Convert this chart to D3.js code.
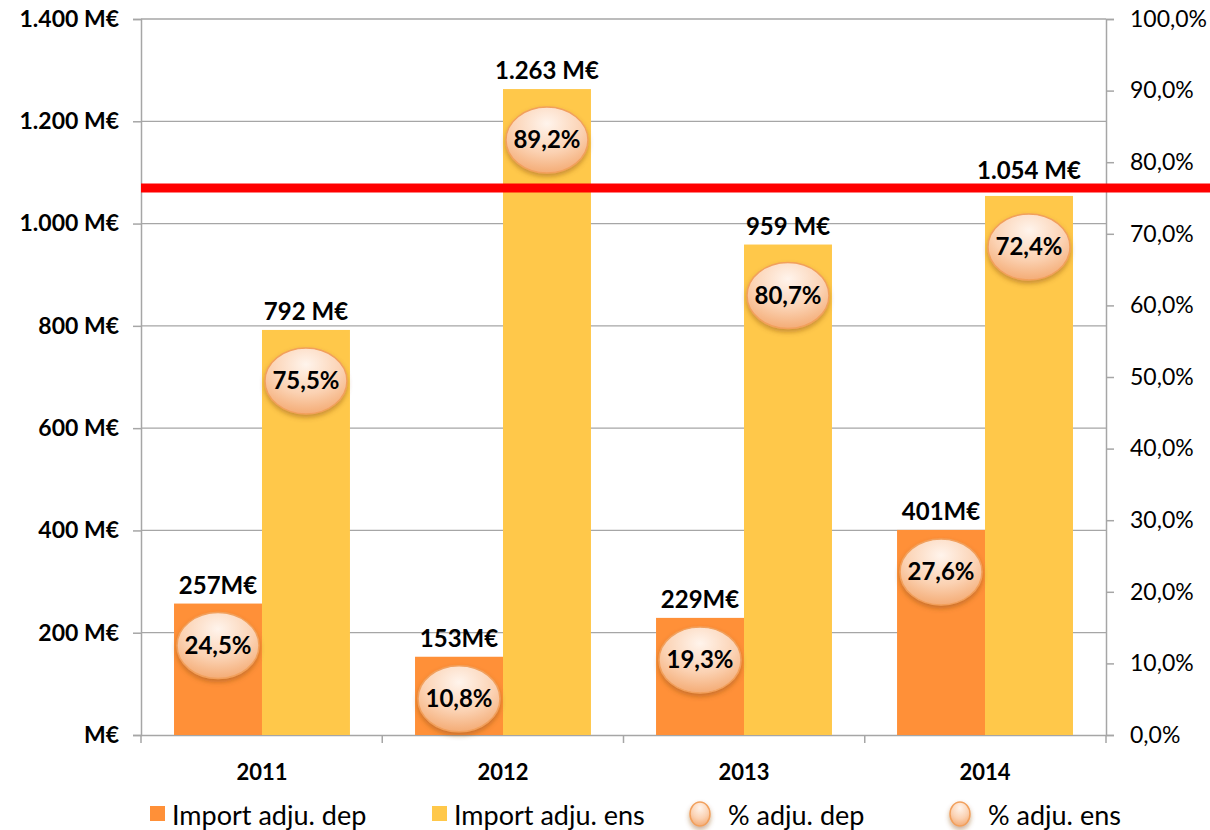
<!DOCTYPE html>
<html>
<head>
<meta charset="utf-8">
<script src="https://cdn.jsdelivr.net/npm/d3@7"></script>
<style>
  body { margin: 0; background: #fff; }
  text { font-family: Lato, "Open Sans", sans-serif; fill: #000; }
</style>
</head>
<body>
<script>
// data
var years = ["2011", "2012", "2013", "2014"];
var importDep = [257, 153, 229, 401];
var importEns = [792, 1263, 959, 1054];
var pctDep = [24.5, 10.8, 19.3, 27.6];
var pctEns = [75.5, 89.2, 80.7, 72.4];
var depLabels = ["257M€", "153M€", "229M€", "401M€"];
var ensLabels = ["792 M€", "1.263 M€", "959 M€", "1.054 M€"];
var leftTicks = [0, 200, 400, 600, 800, 1000, 1200, 1400];
var rightTicks = [0, 10, 20, 30, 40, 50, 60, 70, 80, 90, 100];
var threshold = 76.4;
var legendItems = ["Import adju. dep", "Import adju. ens", "% adju. dep", "% adju. ens"];

var W = 1210, H = 830;
var mLeft = 141, mRight = 1106, mTop = 19, mBottom = 735;

var svg = d3.select("body").append("svg")
  .attr("width", W)
  .attr("height", H);

var defs = svg.append("defs");
var grad = defs.append("radialGradient")
  .attr("id", "bub")
  .attr("cx", "50%").attr("cy", "25%").attr("r", "80%");
grad.append("stop").attr("offset", "0%").attr("stop-color", "#fff4ec");
grad.append("stop").attr("offset", "55%").attr("stop-color", "#fbd2b3");
grad.append("stop").attr("offset", "100%").attr("stop-color", "#f3a66c");
var shadow = defs.append("filter").attr("id", "shd")
  .attr("x", "-30%").attr("y", "-30%").attr("width", "160%").attr("height", "170%");
shadow.append("feDropShadow")
  .attr("dx", 0).attr("dy", 3).attr("stdDeviation", 2.5)
  .attr("flood-color", "#8a4a1a").attr("flood-opacity", 0.45);

var x = d3.scaleBand().domain(years).range([mLeft, mRight]).paddingInner(0.27).paddingOuter(0.137);
var xSub = d3.scaleBand().domain(["dep", "ens"]).range([0, x.bandwidth()]);
var y = d3.scaleLinear().domain([0, 1400]).range([mBottom, mTop]);
var yp = d3.scaleLinear().domain([0, 100]).range([mBottom, mTop]);
var lineY = yp(threshold);

// gridlines
svg.append("g").selectAll("line")
  .data(leftTicks.slice(1))
  .enter().append("line")
  .attr("x1", mLeft).attr("x2", mRight)
  .attr("y1", function (d) { return y(d); })
  .attr("y2", function (d) { return y(d); })
  .attr("stroke", "#a6a6a6").attr("stroke-width", 1.3);

// left axis
var yAxis = svg.append("g")
  .attr("transform", "translate(" + mLeft + ",0)")
  .call(d3.axisLeft(y).tickValues(leftTicks).tickSize(8).tickPadding(14)
    .tickFormat(function (d) { return d == 0 ? "M€" : d3.format(",")(d).replace(",", ".") + " M€"; }));
yAxis.selectAll("path, line").attr("stroke", "#a6a6a6").attr("stroke-width", 1.5);
yAxis.selectAll("text").style("font-size", "23px").style("font-weight", "bold")
  .style("font-family", "Lato, sans-serif").attr("fill", "#000");

// right axis
var rAxis = svg.append("g")
  .attr("transform", "translate(" + mRight + ",0)")
  .call(d3.axisRight(yp).tickValues(rightTicks).tickSize(8).tickPadding(16)
    .tickFormat(function (d) { return d.toFixed(1).replace(".", ",") + "%"; }));
rAxis.selectAll("path, line").attr("stroke", "#a6a6a6").attr("stroke-width", 1.5);
rAxis.selectAll("text").style("font-size", "23px")
  .style("font-family", "Lato, sans-serif").attr("fill", "#000");

// bottom axis
var xAxis = svg.append("g")
  .attr("transform", "translate(0," + mBottom + ")")
  .call(d3.axisBottom(x).tickSize(0).tickPadding(29));
xAxis.select("path").attr("stroke", "#a6a6a6").attr("stroke-width", 1.5);
xAxis.selectAll("text").style("font-size", "22px").style("font-weight", "bold")
  .style("font-family", "Lato, sans-serif").attr("fill", "#000");
// category separators
svg.append("g").selectAll("line")
  .data(d3.range(years.length + 1))
  .enter().append("line")
  .attr("x1", function (i) { return mLeft + i * (mRight - mLeft) / years.length; })
  .attr("x2", function (i) { return mLeft + i * (mRight - mLeft) / years.length; })
  .attr("y1", mBottom).attr("y2", mBottom + 8)
  .attr("stroke", "#a6a6a6").attr("stroke-width", 1.5);

// bars
var rows = years.map(function (yr, i) {
  return { year: yr, dep: importDep[i], ens: importEns[i], pd: pctDep[i], pe: pctEns[i], ld: depLabels[i], le: ensLabels[i] };
});

var groups = svg.append("g").selectAll("g")
  .data(rows)
  .enter().append("g")
  .attr("transform", function (d) { return "translate(" + x(d.year) + ",0)"; });

groups.append("rect")
  .attr("x", xSub("dep")).attr("width", xSub.bandwidth())
  .attr("y", function (d) { return y(d.dep); })
  .attr("height", function (d) { return mBottom - y(d.dep); })
  .attr("fill", "#ff9038");

groups.append("rect")
  .attr("x", xSub("ens")).attr("width", xSub.bandwidth())
  .attr("y", function (d) { return y(d.ens); })
  .attr("height", function (d) { return mBottom - y(d.ens); })
  .attr("fill", "#ffc84a");

// red threshold line
svg.append("line")
  .attr("x1", mLeft).attr("x2", W)
  .attr("y1", lineY).attr("y2", lineY)
  .attr("stroke", "#ff0000").attr("stroke-width", 9);

// value labels (lifted above the red line when they would touch it)
function labelY(v) {
  var ly = y(v) - 10;
  if (ly > lineY - 9 && ly - 20 < lineY + 5) ly = lineY - 9;
  return ly;
}
var labels = svg.append("g").selectAll("g")
  .data(rows)
  .enter().append("g")
  .attr("transform", function (d) { return "translate(" + x(d.year) + ",0)"; });

labels.append("text")
  .attr("x", xSub("dep") + xSub.bandwidth() / 2)
  .attr("y", function (d) { return labelY(d.dep); })
  .attr("text-anchor", "middle")
  .style("font-size", "24px").style("font-weight", "bold")
  .text(function (d) { return d.ld; });

labels.append("text")
  .attr("x", xSub("ens") + xSub.bandwidth() / 2)
  .attr("y", function (d) { return labelY(d.ens); })
  .attr("text-anchor", "middle")
  .style("font-size", "24px").style("font-weight", "bold")
  .text(function (d) { return d.le; });

// percentage bubbles
function bubble(g, cx, cy, label) {
  g.append("ellipse")
    .attr("cx", cx).attr("cy", cy).attr("rx", 41).attr("ry", 33)
    .attr("fill", "url(#bub)").attr("stroke", "#f2a05c").attr("stroke-width", 1.5)
    .attr("filter", "url(#shd)");
  g.append("text")
    .attr("x", cx).attr("y", cy + 8)
    .attr("text-anchor", "middle")
    .style("font-size", "24px").style("font-weight", "bold")
    .text(label);
}
labels.each(function (d) {
  var g = d3.select(this);
  bubble(g, xSub("dep") + xSub.bandwidth() / 2, y(d.dep) + 42, d.pd.toFixed(1).replace(".", ",") + "%");
  bubble(g, xSub("ens") + xSub.bandwidth() / 2, y(d.ens) + 51, d.pe.toFixed(1).replace(".", ",") + "%");
});

// legend
var legX = [150, 432, 690, 950];
var leg = svg.append("g").selectAll("g")
  .data(legendItems)
  .enter().append("g")
  .attr("transform", function (d, i) { return "translate(" + legX[i] + ",816)"; });
leg.each(function (d, i) {
  var g = d3.select(this);
  if (i < 2) {
    g.append("rect").attr("x", 0).attr("y", -10).attr("width", 15).attr("height", 15)
      .attr("fill", i == 0 ? "#ff9038" : "#ffc84a");
  } else {
    g.append("ellipse").attr("cx", 10).attr("cy", -2).attr("rx", 10).attr("ry", 12)
      .attr("fill", "url(#bub)").attr("stroke", "#f2a05c").attr("stroke-width", 1.5)
      .attr("filter", "url(#shd)");
  }
  g.append("text")
    .attr("x", i < 2 ? 22 : 38).attr("y", 9)
    .style("font-size", "27px")
    .text(d);
});
</script>
</body>
</html>
